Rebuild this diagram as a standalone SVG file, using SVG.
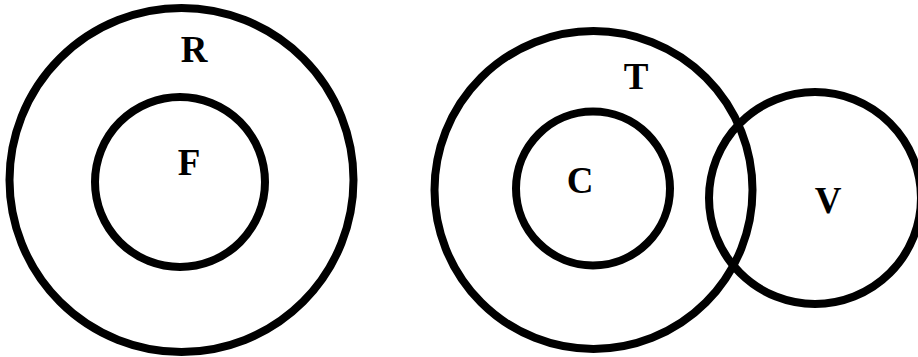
<svg xmlns="http://www.w3.org/2000/svg" width="918" height="357" viewBox="0 0 918 357">
<style>
.c{fill:none;stroke:#000;stroke-width:8}
.t{font-family:"Liberation Serif","Times New Roman",serif;font-weight:bold;font-size:37px;fill:#000;text-anchor:middle}
</style>
<rect width="918" height="357" fill="#fff"/>
<g id="R"><circle class="c" cx="181.5" cy="180" r="172"/><text class="t" x="194" y="62">R</text></g>
<g id="F"><circle class="c" cx="180" cy="182" r="85"/><text class="t" x="189" y="175">F</text></g>
<g id="T"><circle class="c" cx="593.5" cy="190" r="159"/><text class="t" x="636" y="89">T</text></g>
<g id="C"><circle class="c" cx="593" cy="188.5" r="77"/><text class="t" x="580" y="193">C</text></g>
<g id="V"><circle class="c" cx="815" cy="198" r="106"/><text class="t" x="828" y="213">V</text></g>
<g id="connectors"></g>
</svg>
